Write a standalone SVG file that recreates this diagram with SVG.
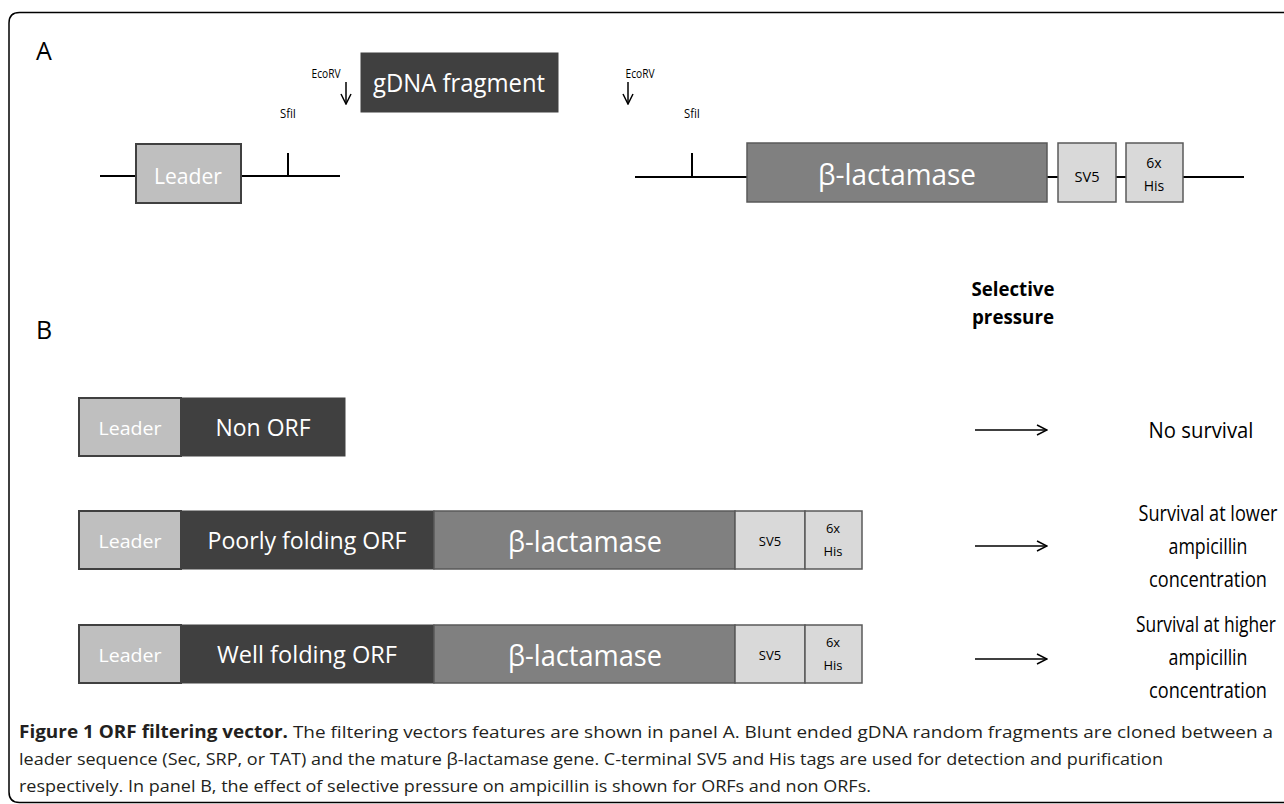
<svg xmlns="http://www.w3.org/2000/svg" width="1284" height="804" viewBox="0 0 1284 804">
<defs>
<style>
text{font-family:"Open Sans","Noto Sans","Liberation Sans",sans-serif;}
.lbl{fill:#000;}
.wt{fill:#fff;text-anchor:middle;}
.ct{text-anchor:middle;fill:#000;}
.dark{fill:#404040;stroke:#404040;stroke-width:1;}
.lead{fill:#bfbfbf;stroke:#404040;stroke-width:2;}
.beta{fill:#808080;stroke:#595959;stroke-width:1.5;}
.tag{fill:#d9d9d9;stroke:#595959;stroke-width:1.5;}
.ln{stroke:#000;stroke-width:2;fill:none;}
.arr{stroke:#000;stroke-width:1.5;fill:none;marker-end:url(#head);}
.cap{fill:#231f20;font-size:17px;}
.out{font-size:22px;}
</style>
<marker id="head" viewBox="0 0 12 12" refX="11" refY="6" markerWidth="12" markerHeight="12" markerUnits="userSpaceOnUse" orient="auto">
<path d="M1,1 L11,6 L1,11" fill="none" stroke="#000" stroke-width="1.5"/>
</marker>
</defs>
<rect width="1284" height="804" fill="#fff"/>
<path d="M1290,802.5 L19.5,802.5 Q9,802.5 9,792 L9,23 Q9,12.5 19.5,12.5 L1290,12.5" fill="none" stroke="#000" stroke-width="1.5"/>

<g id="panel-labels">
<text x="36" y="60" font-size="25" class="lbl">A</text>
<text x="36" y="339" font-size="25" class="lbl">B</text>
<text x="1013" y="296" font-size="20" font-weight="bold" class="ct" textLength="83" lengthAdjust="spacingAndGlyphs">Selective</text>
<text x="1013" y="324" font-size="20" font-weight="bold" class="ct" textLength="82" lengthAdjust="spacingAndGlyphs">pressure</text>
</g>

<g id="connectors">
<line class="ln" x1="100" y1="176" x2="136" y2="176"/>
<line class="ln" x1="241" y1="176" x2="340" y2="176"/>
<line class="ln" x1="288" y1="153" x2="288" y2="176"/>
<line class="ln" x1="635" y1="177" x2="747" y2="177"/>
<line class="ln" x1="692" y1="153" x2="692" y2="177"/>
<line class="ln" x1="1047" y1="177" x2="1058" y2="177"/>
<line class="ln" x1="1116" y1="177" x2="1126" y2="177"/>
<line class="ln" x1="1183" y1="177" x2="1244" y2="177"/>
<line class="arr" x1="346" y1="82" x2="346" y2="104"/>
<line class="arr" x1="628" y1="82" x2="628" y2="104"/>
<line class="arr" x1="975" y1="430" x2="1047" y2="430"/>
<line class="arr" x1="975" y1="546" x2="1047" y2="546"/>
<line class="arr" x1="975" y1="659" x2="1047" y2="659"/>
</g>

<g id="site-labels">
<text x="326" y="78" font-size="12.5" class="ct" textLength="29" lengthAdjust="spacingAndGlyphs">EcoRV</text>
<text x="640" y="78" font-size="12.5" class="ct" textLength="29" lengthAdjust="spacingAndGlyphs">EcoRV</text>
<text x="288" y="118" font-size="12.5" class="ct" textLength="16" lengthAdjust="spacingAndGlyphs">SfiI</text>
<text x="692" y="118" font-size="12.5" class="ct" textLength="16" lengthAdjust="spacingAndGlyphs">SfiI</text>
</g>

<g id="gdna-fragment">
<rect class="dark" x="361" y="53" width="197" height="59"/>
<text x="459" y="92" font-size="26" class="wt" textLength="172" lengthAdjust="spacingAndGlyphs">gDNA fragment</text>
</g>

<g id="a-leader">
<rect class="lead" x="136" y="144" width="105" height="59"/>
<text x="188" y="184" font-size="21" class="wt" textLength="68" lengthAdjust="spacingAndGlyphs">Leader</text>
</g>
<g id="a-blactamase">
<rect class="beta" x="747" y="143" width="300" height="59"/>
<text x="897" y="185" font-size="30" class="wt" textLength="158" lengthAdjust="spacingAndGlyphs">β-lactamase</text>
</g>
<g id="a-sv5">
<rect class="tag" x="1058" y="143" width="58" height="59"/>
<text x="1087" y="182" font-size="14" class="ct" textLength="25" lengthAdjust="spacingAndGlyphs">SV5</text>
</g>
<g id="a-his">
<rect class="tag" x="1126" y="143" width="57" height="59"/>
<text x="1154" y="168" font-size="14" class="ct">6x</text>
<text x="1154" y="191" font-size="14" class="ct">His</text>
</g>

<g id="b-row1">
<rect class="lead" x="79" y="398" width="102" height="58"/>
<rect class="dark" x="181" y="398" width="164" height="58"/>
<text x="130" y="435" font-size="19" class="wt" textLength="63" lengthAdjust="spacingAndGlyphs">Leader</text>
<text x="263" y="436" font-size="24" class="wt" textLength="95" lengthAdjust="spacingAndGlyphs">Non ORF</text>
</g>

<g id="b-row2">
<rect class="lead" x="79" y="511" width="102" height="58"/>
<rect class="dark" x="181" y="511" width="253" height="58"/>
<rect class="beta" x="434" y="511" width="301" height="58"/>
<rect class="tag" x="735" y="511" width="70" height="58"/>
<rect class="tag" x="805" y="511" width="57" height="58"/>
<text x="130" y="548" font-size="19" class="wt" textLength="63" lengthAdjust="spacingAndGlyphs">Leader</text>
<text x="307" y="549" font-size="24" class="wt" textLength="199" lengthAdjust="spacingAndGlyphs">Poorly folding ORF</text>
<text x="585" y="552" font-size="29" class="wt" textLength="154" lengthAdjust="spacingAndGlyphs">β-lactamase</text>
<text x="770" y="546" font-size="13" class="ct">SV5</text>
<text x="833" y="533" font-size="13" class="ct">6x</text>
<text x="833" y="556" font-size="13" class="ct">His</text>
</g>

<g id="b-row3">
<rect class="lead" x="79" y="625" width="102" height="58"/>
<rect class="dark" x="181" y="625" width="253" height="58"/>
<rect class="beta" x="434" y="625" width="301" height="58"/>
<rect class="tag" x="735" y="625" width="70" height="58"/>
<rect class="tag" x="805" y="625" width="57" height="58"/>
<text x="130" y="662" font-size="19" class="wt" textLength="63" lengthAdjust="spacingAndGlyphs">Leader</text>
<text x="307" y="663" font-size="24" class="wt" textLength="180" lengthAdjust="spacingAndGlyphs">Well folding ORF</text>
<text x="585" y="666" font-size="29" class="wt" textLength="154" lengthAdjust="spacingAndGlyphs">β-lactamase</text>
<text x="770" y="660" font-size="13" class="ct">SV5</text>
<text x="833" y="647" font-size="13" class="ct">6x</text>
<text x="833" y="670" font-size="13" class="ct">His</text>
</g>

<g id="outcomes">
<text transform="translate(1201,438) scale(0.82,1)" class="ct out" textLength="128" lengthAdjust="spacingAndGlyphs">No survival</text>
<text transform="translate(1208,521) scale(0.82,1)" class="ct out" textLength="169.5" lengthAdjust="spacingAndGlyphs">Survival at lower</text>
<text transform="translate(1208,554) scale(0.82,1)" class="ct out" textLength="96.3" lengthAdjust="spacingAndGlyphs">ampicillin</text>
<text transform="translate(1208,587) scale(0.82,1)" class="ct out" textLength="143.9" lengthAdjust="spacingAndGlyphs">concentration</text>
<text transform="translate(1206,632) scale(0.82,1)" class="ct out" textLength="170.7" lengthAdjust="spacingAndGlyphs">Survival at higher</text>
<text transform="translate(1208,665) scale(0.82,1)" class="ct out" textLength="96.3" lengthAdjust="spacingAndGlyphs">ampicillin</text>
<text transform="translate(1208,698) scale(0.82,1)" class="ct out" textLength="143.9" lengthAdjust="spacingAndGlyphs">concentration</text>
</g>

<g id="caption">
<text class="cap" x="19" y="738" textLength="1254" lengthAdjust="spacingAndGlyphs"><tspan font-weight="bold">Figure 1 ORF filtering vector.</tspan> The filtering vectors features are shown in panel A. Blunt ended gDNA random fragments are cloned between a</text>
<text class="cap" x="19" y="765" textLength="1144" lengthAdjust="spacingAndGlyphs">leader sequence (Sec, SRP, or TAT) and the mature β-lactamase gene. C-terminal SV5 and His tags are used for detection and purification</text>
<text class="cap" x="19" y="792" textLength="852" lengthAdjust="spacingAndGlyphs">respectively. In panel B, the effect of selective pressure on ampicillin is shown for ORFs and non ORFs.</text>
</g>
</svg>
